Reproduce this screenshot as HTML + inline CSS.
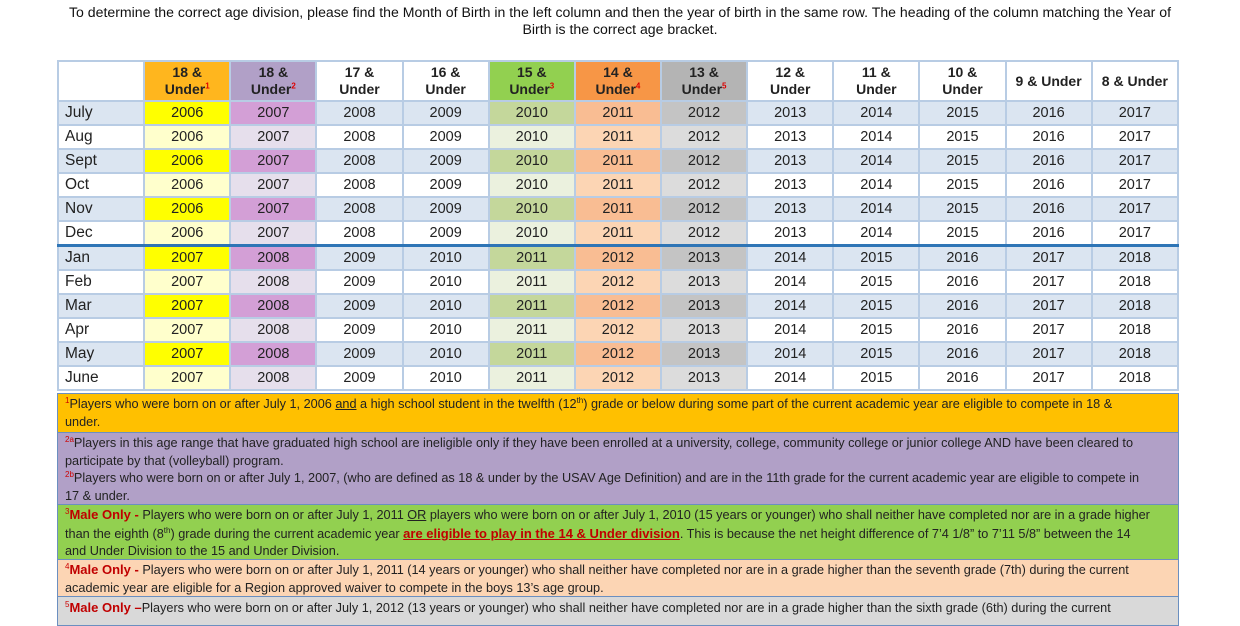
<!DOCTYPE html>
<html><head><meta charset="utf-8"><style>
body{margin:0;width:1240px;height:620px;background:#fff;overflow:hidden;position:relative;font-family:"Liberation Sans",sans-serif;}
.t{position:absolute;left:0;width:1240px;text-align:center;font-size:14.1px;color:#111;}
table{position:absolute;left:57px;top:60px;width:1122px;border-collapse:collapse;table-layout:fixed;}
td{border:2px solid #b8cce4;text-align:center;font-size:14.5px;color:#222;height:22px;padding:0;line-height:22px;}
td:first-child{text-align:left;padding-left:6px;font-size:15.5px;}
tr.h td{height:38px;font-weight:bold;font-size:14px;line-height:17px;color:#222;background:#fff;}
tr.o td{background:#dbe5f1;}
tr.e td{background:#fff;}
sup{color:#d00;font-size:8px;line-height:0;}
tr.o td.a{background:#ffff00}tr.e td.a{background:#ffffcc}
tr.o td.b{background:#d39fd6}tr.e td.b{background:#e6dfec}
tr.o td.c{background:#c4d79b}tr.e td.c{background:#ebf1de}
tr.o td.d{background:#f9bd93}tr.e td.d{background:#fcd5b4}
tr.o td.f{background:#c4c4c4}tr.e td.f{background:#dcdcdc}
tr.h td.a{background:#ffb61e}tr.h td.b{background:#b1a0c7}tr.h td.c{background:#92d050}tr.h td.d{background:#f79646}tr.h td.f{background:#b4b4b4}
tr.sep td{border-top:3px solid #2e75b6;}
.fn{position:absolute;left:57px;padding:0 7px;font-size:12.7px;line-height:17.5px;color:#222;white-space:nowrap;border:1.5px solid #6b8fc0;box-sizing:border-box;width:1122px;overflow:hidden;}
.fn sup{color:#c00;font-size:8px;line-height:0}
.m{color:#c00000;font-weight:bold;font-size:13px}
</style></head><body>
<div class="t" style="top:4px">To determine the correct age division, please find the Month of Birth in the left column and then the year of birth in the same row. The heading of the column matching the Year of</div>
<div class="t" style="top:21px">Birth is the correct age bracket.</div>
<table>
<tr class="h"><td></td><td class="a">18 &amp;<br>Under<sup>1</sup></td><td class="b">18 &amp;<br>Under<sup>2</sup></td><td>17 &amp;<br>Under</td><td>16 &amp;<br>Under</td><td class="c">15 &amp;<br>Under<sup>3</sup></td><td class="d">14 &amp;<br>Under<sup>4</sup></td><td class="f">13 &amp;<br>Under<sup>5</sup></td><td>12 &amp;<br>Under</td><td>11 &amp;<br>Under</td><td>10 &amp;<br>Under</td><td>9 &amp; Under</td><td>8 &amp; Under</td></tr>
<tr class="o"><td>July</td><td class="a">2006</td><td class="b">2007</td><td>2008</td><td>2009</td><td class="c">2010</td><td class="d">2011</td><td class="f">2012</td><td>2013</td><td>2014</td><td>2015</td><td>2016</td><td>2017</td></tr>
<tr class="e"><td>Aug</td><td class="a">2006</td><td class="b">2007</td><td>2008</td><td>2009</td><td class="c">2010</td><td class="d">2011</td><td class="f">2012</td><td>2013</td><td>2014</td><td>2015</td><td>2016</td><td>2017</td></tr>
<tr class="o"><td>Sept</td><td class="a">2006</td><td class="b">2007</td><td>2008</td><td>2009</td><td class="c">2010</td><td class="d">2011</td><td class="f">2012</td><td>2013</td><td>2014</td><td>2015</td><td>2016</td><td>2017</td></tr>
<tr class="e"><td>Oct</td><td class="a">2006</td><td class="b">2007</td><td>2008</td><td>2009</td><td class="c">2010</td><td class="d">2011</td><td class="f">2012</td><td>2013</td><td>2014</td><td>2015</td><td>2016</td><td>2017</td></tr>
<tr class="o"><td>Nov</td><td class="a">2006</td><td class="b">2007</td><td>2008</td><td>2009</td><td class="c">2010</td><td class="d">2011</td><td class="f">2012</td><td>2013</td><td>2014</td><td>2015</td><td>2016</td><td>2017</td></tr>
<tr class="e"><td>Dec</td><td class="a">2006</td><td class="b">2007</td><td>2008</td><td>2009</td><td class="c">2010</td><td class="d">2011</td><td class="f">2012</td><td>2013</td><td>2014</td><td>2015</td><td>2016</td><td>2017</td></tr>
<tr class="o sep"><td>Jan</td><td class="a">2007</td><td class="b">2008</td><td>2009</td><td>2010</td><td class="c">2011</td><td class="d">2012</td><td class="f">2013</td><td>2014</td><td>2015</td><td>2016</td><td>2017</td><td>2018</td></tr>
<tr class="e"><td>Feb</td><td class="a">2007</td><td class="b">2008</td><td>2009</td><td>2010</td><td class="c">2011</td><td class="d">2012</td><td class="f">2013</td><td>2014</td><td>2015</td><td>2016</td><td>2017</td><td>2018</td></tr>
<tr class="o"><td>Mar</td><td class="a">2007</td><td class="b">2008</td><td>2009</td><td>2010</td><td class="c">2011</td><td class="d">2012</td><td class="f">2013</td><td>2014</td><td>2015</td><td>2016</td><td>2017</td><td>2018</td></tr>
<tr class="e"><td>Apr</td><td class="a">2007</td><td class="b">2008</td><td>2009</td><td>2010</td><td class="c">2011</td><td class="d">2012</td><td class="f">2013</td><td>2014</td><td>2015</td><td>2016</td><td>2017</td><td>2018</td></tr>
<tr class="o"><td>May</td><td class="a">2007</td><td class="b">2008</td><td>2009</td><td>2010</td><td class="c">2011</td><td class="d">2012</td><td class="f">2013</td><td>2014</td><td>2015</td><td>2016</td><td>2017</td><td>2018</td></tr>
<tr class="e"><td>June</td><td class="a">2007</td><td class="b">2008</td><td>2009</td><td>2010</td><td class="c">2011</td><td class="d">2012</td><td class="f">2013</td><td>2014</td><td>2015</td><td>2016</td><td>2017</td><td>2018</td></tr>
</table>
<div class="fn" style="top:393px;height:40px;background:#ffc000;padding-top:2px"><sup>1</sup>Players who were born on or after July 1, 2006 <u>and</u> a high school student in the twelfth (12<sup style="color:#222">th</sup>) grade or below during some part of the current academic year are eligible to compete in 18 &amp;<br>under.</div>
<div class="fn" style="top:432px;height:73px;background:#b1a0c7;padding-top:2px"><sup>2a</sup>Players in this age range that have graduated high school are ineligible only if they have been enrolled at a university, college, community college or junior college AND have been cleared to<br>participate by that (volleyball) program.<br><sup>2b</sup>Players who were born on or after July 1, 2007, (who are defined as 18 &amp; under by the USAV Age Definition) and are in the 11th grade for the current academic year are eligible to compete in<br>17 &amp; under.</div>
<div class="fn" style="top:504px;height:56px;background:#92d050;padding-top:1px"><sup>3</sup><span class="m">Male Only -</span> Players who were born on or after July 1, 2011 <u>OR</u> players who were born on or after July 1, 2010 (15 years or younger) who shall neither have completed nor are in a grade higher<br>than the eighth (8<sup style="color:#222">th</sup>) grade during the current academic year <u class="m">are eligible to play in the 14 &amp; Under division</u>.  This is because the net height difference of 7’4 1/8” to 7’11 5/8” between the 14<br>and Under Division to the 15 and Under Division.</div>
<div class="fn" style="top:559px;height:38px;background:#fcd5b4;padding-top:1px"><sup>4</sup><span class="m">Male Only -</span> Players who were born on or after July 1, 2011 (14 years or younger) who shall neither have completed nor are in a grade higher than the seventh grade (7th) during the current<br>academic year are eligible for a Region approved waiver to compete in the boys 13’s age group.</div>
<div class="fn" style="top:596px;height:30px;background:#d9d9d9;padding-top:2px"><sup>5</sup><span class="m">Male Only –</span>Players who were born on or after July 1, 2012 (13 years or younger) who shall neither have completed nor are in a grade higher than the sixth grade (6th) during the current</div>
</body></html>
